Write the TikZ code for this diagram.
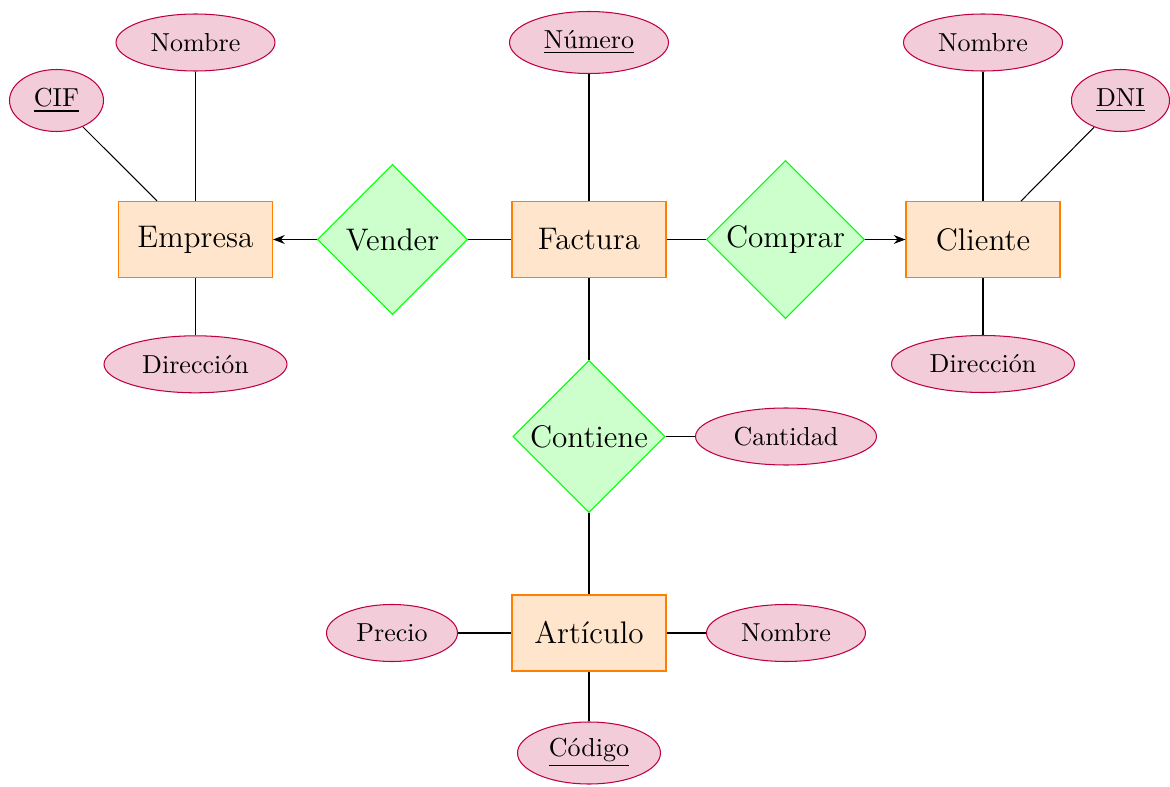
\documentclass[tikz,border=0pt]{standalone}
\usetikzlibrary{shapes.geometric,arrows.meta}
\newcommand{\px}{0.384615pt}
\tikzset{
  entity/.style={rectangle, draw=orange, fill=orange!20, font=\large, inner sep=0pt,
    minimum width=154*\px, minimum height=76*\px},
  attr/.style={ellipse, draw=purple, fill=purple!20, inner sep=0pt, minimum height=57*\px},
  keyattr/.style={attr, minimum height=62*\px},
  rel/.style={diamond, aspect=1, draw=green, fill=green!20, font=\large, inner sep=0pt},
  link/.style={draw=black},
  arr/.style={draw=black, -{Stealth[length=4.5pt, width=3.4pt]}},
}
\begin{document}
\begin{tikzpicture}[x=\px, y=-\px]
\useasboundingbox (0,0) rectangle (1170,787);
% entities
\node[entity] (empresa) at (195.5,239.5) {Empresa};
\node[entity] (factura) at (589,239.5) {Factura};
\node[entity] (cliente) at (983,239.5) {Cliente};
\node[entity] (articulo) at (589,633) {Artículo};
% relationships
\node[rel, minimum size=150*\px] (vender) at (392.5,239.5) {Vender};
\node[rel, minimum size=158*\px] (comprar) at (785.5,239.5) {Comprar};
\node[rel, minimum size=152*\px] (contiene) at (589,436.5) {Contiene};
% attributes
\node[keyattr, minimum width=94*\px] (cif) at (56.5,100.5) {\underline{CIF}};
\node[attr, minimum width=159*\px] (nombreE) at (195.5,42.5) {Nombre};
\node[attr, minimum width=183*\px] (dirE) at (195.5,364.3) {Dirección};
\node[keyattr, minimum width=159*\px] (numero) at (589,42.5) {\underline{Número}};
\node[attr, minimum width=159*\px] (nombreC) at (983,42.5) {Nombre};
\node[keyattr, minimum width=98*\px] (dni) at (1120.5,100.5) {\underline{DNI}};
\node[attr, minimum width=183*\px] (dirC) at (983,364) {Dirección};
\node[attr, minimum width=181*\px] (cantidad) at (786,436.5) {Cantidad};
\node[attr, minimum width=131*\px] (precio) at (392,633) {Precio};
\node[attr, minimum width=159*\px] (nombreA) at (786,633) {Nombre};
\node[keyattr, minimum width=143*\px] (codigo) at (589,753) {\underline{Código}};
% connectors
\draw[link] (cif) -- (empresa);
\draw[link] (nombreE) -- (empresa);
\draw[link] (dirE) -- (empresa);
\draw[link] (numero) -- (factura);
\draw[link] (nombreC) -- (cliente);
\draw[link] (dni) -- (cliente);
\draw[link] (dirC) -- (cliente);
\draw[link] (factura) -- (vender);
\draw[arr] (vender) -- (empresa);
\draw[link] (factura) -- (comprar);
\draw[arr] (comprar) -- (cliente);
\draw[link] (factura) -- (contiene);
\draw[link] (contiene) -- (articulo);
\draw[link] (contiene) -- (cantidad);
\draw[link] (precio) -- (articulo);
\draw[link] (nombreA) -- (articulo);
\draw[link] (codigo) -- (articulo);
\end{tikzpicture}
\end{document}
